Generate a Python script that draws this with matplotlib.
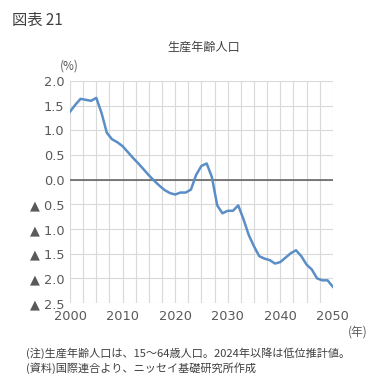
import numpy as np
import matplotlib
matplotlib.use('Agg')
import matplotlib.pyplot as plt
from matplotlib.ticker import MultipleLocator, FuncFormatter

plt.rcParams['font.family'] = ['Noto Sans CJK JP', 'DejaVu Sans']

# 生産年齢人口の伸び率 (%)
years = list(range(2000, 2051))
growth = [1.38, 1.52, 1.64, 1.62, 1.60, 1.66, 1.35, 0.95, 0.82, 0.76,
          0.68, 0.56, 0.44, 0.33, 0.21, 0.09, -0.02, -0.12, -0.21, -0.27,
          -0.30, -0.26, -0.26, -0.20, 0.10, 0.28, 0.33, 0.05, -0.52, -0.68,
          -0.63, -0.63, -0.52, -0.80, -1.12, -1.35, -1.55, -1.60, -1.63, -1.70,
          -1.67, -1.58, -1.49, -1.43, -1.55, -1.72, -1.82, -2.00, -2.04, -2.04,
          -2.17]

fig = plt.figure(figsize=(3.87, 3.88), dpi=100)
ax = fig.add_axes([0.181, 0.219, 0.679, 0.572])

ax.plot(years, growth, color='#5b8ec6', lw=1.8, zorder=3)
ax.axhline(0, color='#595959', lw=1.1, zorder=2)

ax.set_xlim(2000, 2050)
ax.set_ylim(-2.5, 2.0)
ax.xaxis.set_major_locator(MultipleLocator(10))
ax.xaxis.set_minor_locator(MultipleLocator(2.5))
ax.yaxis.set_major_locator(MultipleLocator(0.5))
ax.grid(which='both', axis='x', color='#d9d9d9', lw=0.8)
ax.grid(which='major', axis='y', color='#d9d9d9', lw=0.8)
ax.set_axisbelow(True)
for s in ax.spines.values():
    s.set_visible(False)
ax.tick_params(which='both', length=0, colors='#595959')
ax.tick_params(axis='y', pad=4)
ax.tick_params(axis='x', pad=5)

def fmt(v, pos):
    if v < -0.001:
        return '▲ %.1f' % (-v)
    return '%.1f' % abs(v)
ax.yaxis.set_major_formatter(FuncFormatter(fmt))
for lab in ax.get_xticklabels() + ax.get_yticklabels():
    lab.set_family(['DejaVu Sans'])
    lab.set_fontsize(9.3)

fig.text(0.03, 0.948, '図表 21', fontsize=11, color='#404040', va='center')
fig.text(0.527, 0.877, '生産年齢人口', fontsize=8.7, color='#404040', ha='center', va='center')
fig.text(0.178, 0.83, '(%)', fontsize=8.5, color='#595959', ha='center', va='center')
fig.text(0.925, 0.145, '(年)', fontsize=8.5, color='#595959', ha='center', va='center')
fig.text(0.068, 0.09, '(注)生産年齢人口は、15～64歳人口。2024年以降は低位推計値。',
         fontsize=8, color='#404040', va='center')
fig.text(0.068, 0.052, '(資料)国際連合より、ニッセイ基礎研究所作成',
         fontsize=8, color='#404040', va='center')

fig.savefig('out.png', dpi=100, facecolor='white')
